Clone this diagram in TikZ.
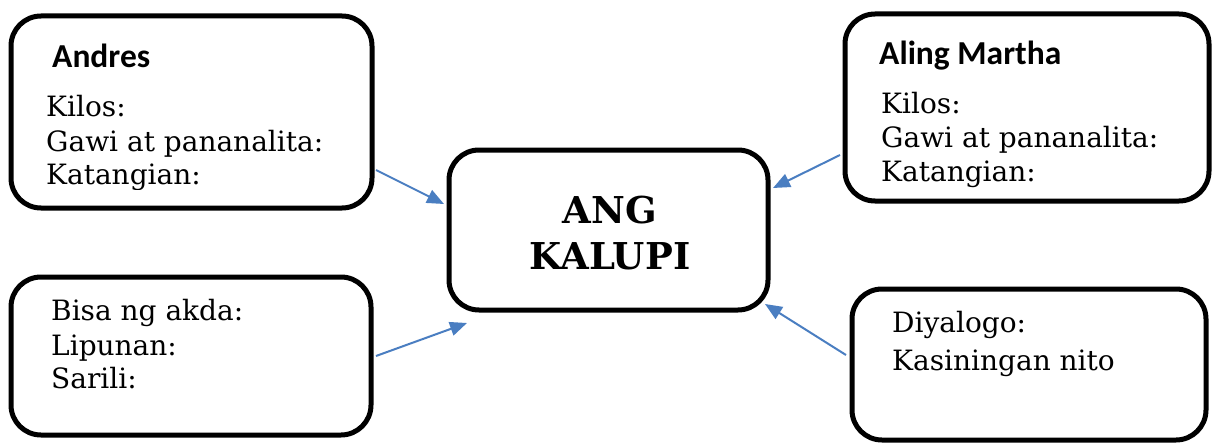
\documentclass[tikz,border=0pt]{standalone}
\usepackage{fontspec}
\usetikzlibrary{arrows.meta}
\newfontfamily\bodyfont{DejaVu Serif}
\newfontfamily\headfont{Carlito}
\newfontfamily\titlefont{DejaVu Serif}
\definecolor{arrowblue}{RGB}{74,126,193}
\tikzset{
  box/.style={draw=black, line width=5pt, rounded corners=30pt, rectangle, inner sep=0pt},
  body/.style={anchor=base west, inner sep=0pt, font=\bodyfont\fontsize{28}{32}\selectfont},
  head/.style={anchor=base west, inner sep=0pt, font=\headfont\bfseries\fontsize{33.5}{38}\selectfont},
  title/.style={anchor=base, inner sep=0pt, font=\titlefont\bfseries\fontsize{37}{42}\selectfont},
  link/.style={draw=arrowblue, line width=2pt, -{Triangle[length=17pt,width=14pt]}}
}
\begin{document}
\begin{tikzpicture}[x=1pt,y=-1pt]
\useasboundingbox (0,0) rectangle (1213,444);
% boxes
\node[box, minimum width=361pt, minimum height=192pt] (A) at (191.5,112) {};
\node[box, minimum width=364pt, minimum height=187pt] (B) at (1027,107.5) {};
\node[box, minimum width=319pt, minimum height=160pt] (C) at (608.5,230) {};
\node[box, minimum width=360pt, minimum height=158pt] (D) at (191,356) {};
\node[box, minimum width=354pt, minimum height=151pt] (E) at (1029,364.5) {};
% box A text
\node[head] (Ah) at (52,68) {Andres};
\node[body] (A1) at (46,117) {Kilos:};
\node[body] (A2) at (46,151) {Gawi at pananalita:};
\begin{scope}
\clip (20,150) rectangle (365,189);
\node[body] (A3) at (46,184) {Katangian:};
\end{scope}
% box B text
\node[head] (Bh) at (879,65) {Aling Martha};
\node[body] (B1) at (881,113) {Kilos:};
\node[body] (B2) at (881,147) {Gawi at pananalita:};
\begin{scope}
\clip (855,150) rectangle (1200,190);
\node[body] (B3) at (881,181) {Katangian:};
\end{scope}
% center
\node[title] (C1) at (610,223) {ANG};
\node[title] (C2) at (610,269) {KALUPI};
% box D text
\node[body] (D1) at (51,320) {Bisa ng akda:};
\node[body] (D2) at (51,355) {Lipunan:};
\node[body] (D3) at (51,388) {Sarili:};
% box E text
\node[body] (E1) at (892,332) {Diyalogo:};
\node[body] (E2) at (892,370) {Kasiningan nito};
% connectors
\coordinate (a1) at (376,170);
\coordinate (a2) at (444,204);
\coordinate (b1) at (840,155);
\coordinate (b2) at (773,188);
\coordinate (d1) at (376,356);
\coordinate (d2) at (467,323);
\coordinate (e1) at (846,355);
\coordinate (e2) at (765,304);
\draw[link] (a1) -- (a2);
\draw[link] (b1) -- (b2);
\draw[link] (d1) -- (d2);
\draw[link] (e1) -- (e2);
\end{tikzpicture}
\end{document}
